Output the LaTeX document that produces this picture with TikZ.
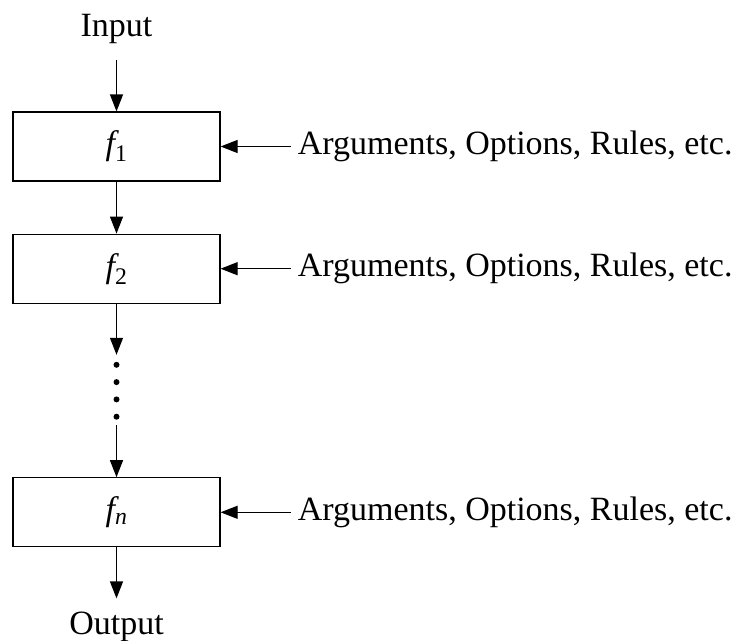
\documentclass[tikz,border=0pt]{standalone}
\usepackage{fontspec}
\setmainfont{Liberation Serif}
\newfontfamily\stageit{Liberation Serif Italic}
\usepackage{tikz}
\usetikzlibrary{arrows.meta, positioning, calc}

% one processing stage f_k
\newcommand{\stagefn}[1]{{\stageit f}\textsubscript{#1}}

\begin{document}
\begin{tikzpicture}[
    x=1pt, y=1pt,
    every node/.style={font=\fontsize{34}{40}\selectfont},
    stage/.style={rectangle, draw, line width=1.2pt,
                  minimum width=207pt, minimum height=69pt, inner sep=0pt},
    term/.style={inner sep=0pt},
    param/.style={inner sep=0pt, inner xsep=7pt},
    arr/.style={-{Triangle[length=17pt, width=13pt]}, line width=1.2pt},
  ]
    \useasboundingbox (0,0) rectangle (743,-640);

    % Stages
    \node[stage] (f1) at (116.5,-146.5) {\stagefn{1}};
    \node[stage, below=52pt of f1] (f2) {\stagefn{2}};
    \node[minimum height=70pt, inner sep=0pt, below=51pt of f2] (gap) {};
    \node[stage, below=52pt of gap] (fn) {\stagefn{{\stageit n}}};

    % Input / output
    \node[term, above=67.5pt of f1] (in) {Input};
    \node[term, below=64pt of fn] (out) {Output};

    % Parameters for each stage
    \node[param, right=70pt of f1] (p1) {Arguments, Options, Rules, etc.};
    \node[param, right=70pt of f2] (p2) {Arguments, Options, Rules, etc.};
    \node[param, right=70pt of fn] (pn) {Arguments, Options, Rules, etc.};

    % Arrows
    \draw[arr, shorten <=16pt] (in) -- (f1);
    \draw[arr] (f1) -- (f2);
    \draw[arr] (f2) -- (gap);
    \draw[arr] (gap) -- (fn);
    \draw[arr, shorten >=13pt] (fn) -- (out);
    \draw[arr] (p1) -- (f1);
    \draw[arr] (p2) -- (f2);
    \draw[arr] (pn) -- (fn);

    % Vertical dots
    \foreach \k in {0,...,3}
      \fill ($(gap.north)+(0,-10-17.3*\k)$) circle (3pt);
\end{tikzpicture}
\end{document}
